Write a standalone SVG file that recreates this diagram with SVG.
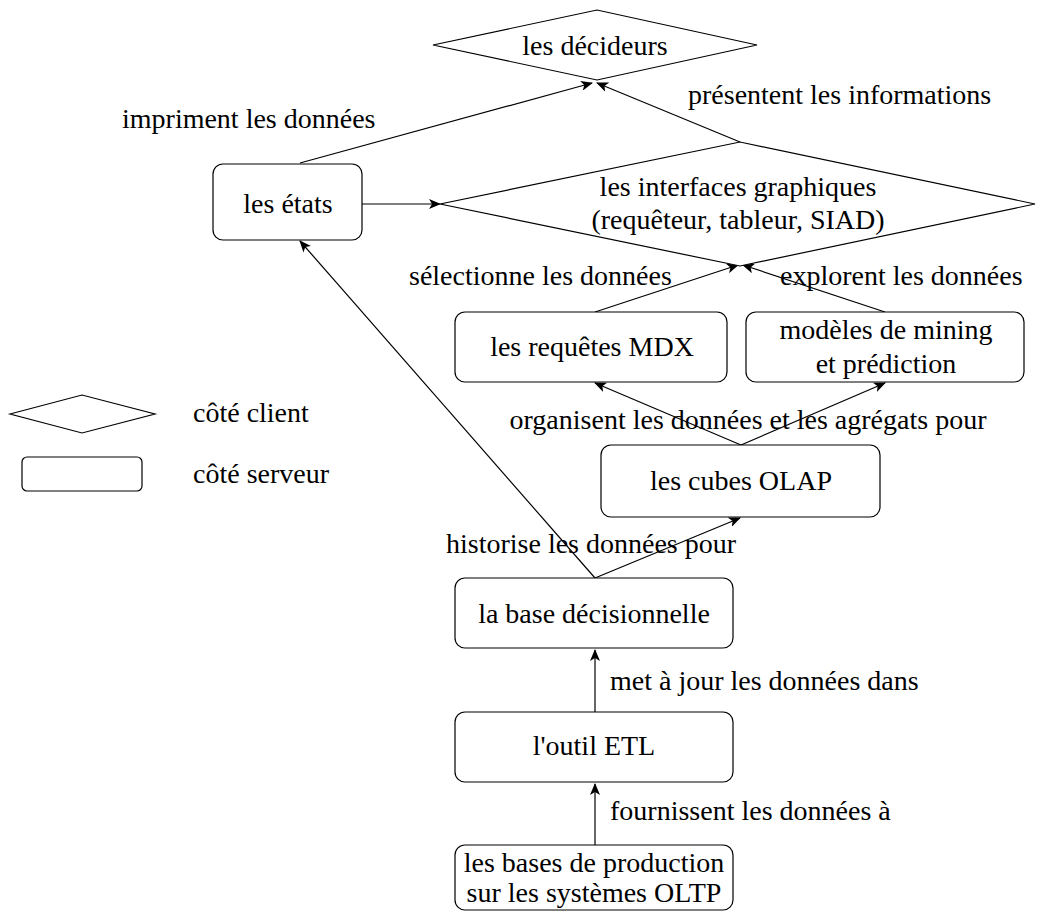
<svg xmlns="http://www.w3.org/2000/svg" width="1055" height="913" viewBox="0 0 1055 913">
<style>
text{font-family:"Liberation Serif","Times New Roman",serif;font-size:28px;fill:#000}
.m{text-anchor:middle}
.box{fill:#fff;stroke:#000;stroke-width:1.2}
.c{fill:none;stroke:#000;stroke-width:1.2}
</style>
<defs>
<marker id="a" viewBox="0 0 12 10" refX="11" refY="5" markerWidth="12" markerHeight="10" markerUnits="userSpaceOnUse" orient="auto">
<path d="M0,0 L12,5 L0,10 L3,5 Z" fill="#000"/>
</marker>
</defs>
<rect width="1055" height="913" fill="#fff"/>
<g id="connectors">
<line class="c" x1="300" y1="163" x2="592" y2="83" marker-end="url(#a)"/>
<line class="c" x1="740" y1="142" x2="597" y2="83" marker-end="url(#a)"/>
<line class="c" x1="362" y1="204" x2="440" y2="204" marker-end="url(#a)"/>
<line class="c" x1="595" y1="312" x2="738" y2="265" marker-end="url(#a)"/>
<line class="c" x1="885" y1="312" x2="743" y2="265" marker-end="url(#a)"/>
<line class="c" x1="741" y1="445" x2="595" y2="383" marker-end="url(#a)"/>
<line class="c" x1="741" y1="445" x2="885" y2="383" marker-end="url(#a)"/>
<line class="c" x1="595" y1="578" x2="740" y2="518" marker-end="url(#a)"/>
<line class="c" x1="595" y1="578" x2="300" y2="241" marker-end="url(#a)"/>
<line class="c" x1="595" y1="712" x2="595" y2="650" marker-end="url(#a)"/>
<line class="c" x1="595" y1="845" x2="595" y2="784" marker-end="url(#a)"/>
<text x="122" y="128">impriment les données</text>
<text x="688" y="104">présentent les informations</text>
<text x="409" y="285">sélectionne les données</text>
<text x="780" y="285">explorent les données</text>
<text class="m" x="748" y="429">organisent les données et les agrégats pour</text>
<text x="446" y="553">historise les données pour</text>
<text x="610" y="690">met à jour les données dans</text>
<text x="610" y="820">fournissent les données à</text>
</g>
<g id="decideurs">
<polygon class="box" points="433,45 597,10 757,45 597,80"/>
<text class="m" x="595" y="55">les décideurs</text>
</g>
<g id="etats">
<rect class="box" x="213" y="164" width="149" height="76" rx="10"/>
<text class="m" x="288" y="213">les états</text>
</g>
<g id="interfaces">
<polygon class="box" points="440,204 740,142 1035,204 740,266"/>
<text class="m" x="738" y="196">les interfaces graphiques</text>
<text class="m" x="738" y="229">(requêteur, tableur, SIAD)</text>
</g>
<g id="mdx">
<rect class="box" x="455" y="312" width="272" height="70" rx="10"/>
<text class="m" x="592" y="356">les requêtes MDX</text>
</g>
<g id="mining">
<rect class="box" x="746" y="312" width="278" height="70" rx="10"/>
<text class="m" x="886" y="339">modèles de mining</text>
<text class="m" x="886" y="373">et prédiction</text>
</g>
<g id="olap">
<rect class="box" x="601" y="445" width="279" height="72" rx="10"/>
<text class="m" x="741" y="490">les cubes OLAP</text>
</g>
<g id="base">
<rect class="box" x="455" y="578" width="278" height="70" rx="10"/>
<text class="m" x="594" y="623">la base décisionnelle</text>
</g>
<g id="etl">
<rect class="box" x="455" y="712" width="278" height="70" rx="10"/>
<text class="m" x="594" y="755">l'outil ETL</text>
</g>
<g id="production">
<rect class="box" x="455" y="845" width="278" height="65" rx="10"/>
<text class="m" x="594" y="872">les bases de production</text>
<text class="m" x="594" y="902">sur les systèmes OLTP</text>
</g>
<g id="legend">
<polygon class="box" points="10,414 82,395 155,414 82,433"/>
<text x="193" y="422">côté client</text>
<rect class="box" x="22" y="457" width="120" height="34" rx="5"/>
<text x="193" y="483">côté serveur</text>
</g>
</svg>
